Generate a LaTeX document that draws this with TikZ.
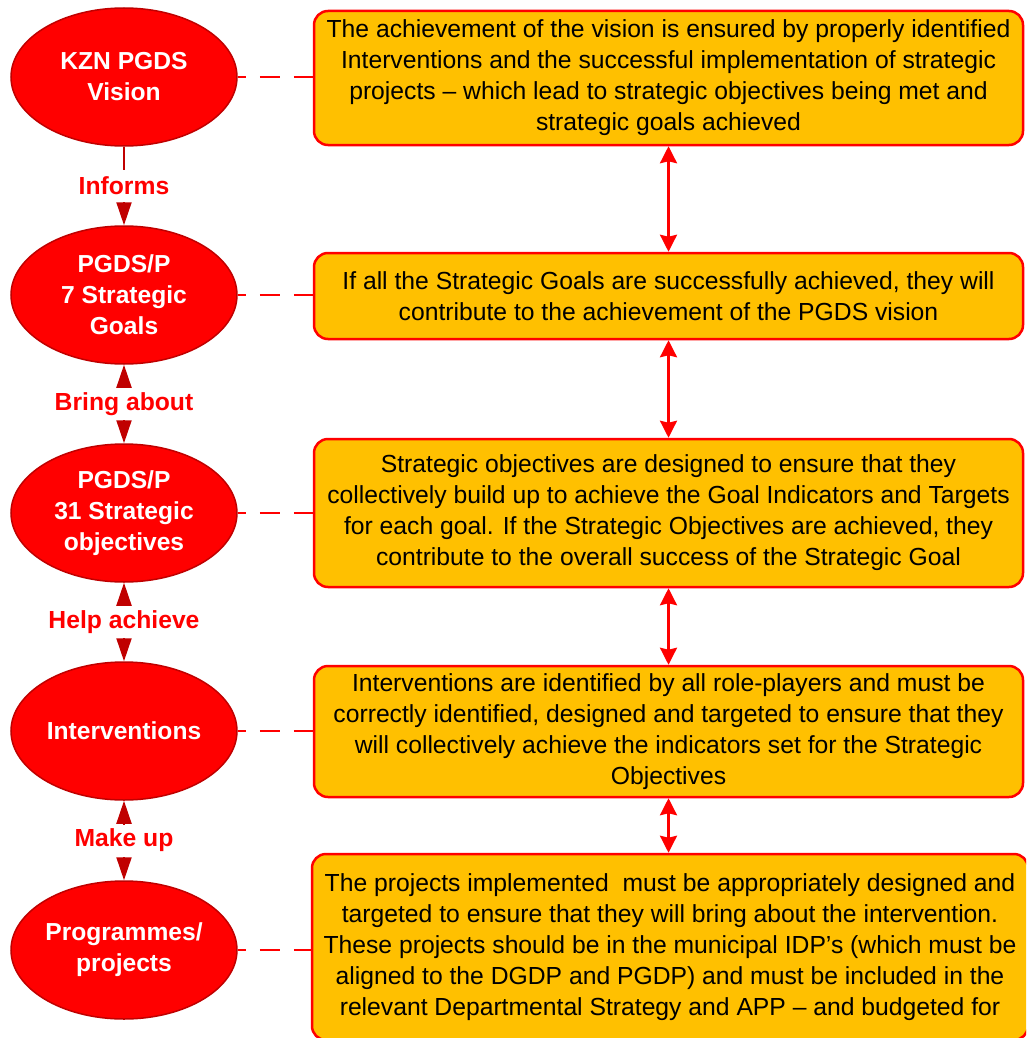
\documentclass[tikz,border=0pt]{standalone}
\usepackage{fontspec}
\setmainfont{Liberation Sans}
\usetikzlibrary{shapes.geometric,arrows.meta}
\definecolor{boxfill}{HTML}{FFC000}
\definecolor{darkred}{HTML}{C00000}
\begin{document}
\begin{tikzpicture}[x=1pt,y=-1pt,
  ell/.style={ellipse, draw=darkred, line width=1.5pt, fill=red, minimum width=226pt, minimum height=138pt, inner sep=0pt, align=center, text=white, font=\fontsize{24.6}{31}\selectfont\bfseries},
  infobox/.style={rectangle, rounded corners=14pt, draw=red, line width=2.5pt, fill=boxfill, align=center, inner sep=0pt, text=black, font=\fontsize{24.7}{31}\selectfont, minimum width=709pt},
  lbl/.style={fill=white, text=red, font=\fontsize{24.7}{31}\selectfont\bfseries, inner sep=0pt, minimum height=32pt},
  link/.style={draw=darkred, line width=2pt},
  dlink/.style={draw=red, line width=2pt, dash pattern=on 20pt off 14pt, dash phase=12pt},
  twoway/.style={draw=red, line width=2.5pt, {Stealth[length=17pt,width=17pt,inset=2pt]}-{Stealth[length=17pt,width=17pt,inset=2pt]}}
]
\clip (0,0) rectangle (1026,1038);
\fill[white] (0,0) rectangle (1026,1038);

% ellipses
\node[ell] (e1) at (124,77) {KZN PGDS\\Vision};
\node[ell] (e2) at (124,295) {PGDS/P\\7 Strategic\\Goals};
\node[ell] (e3) at (124,513) {PGDS/P\\31 Strategic\\objectives};
\node[ell] (e4) at (124,731) {Interventions};
\node[ell] (e5) at (124,950) {Programmes/\\projects};

% boxes
\node[infobox, minimum height=134pt] (b1) at (668.5,78) {The achievement of the vision is ensured by properly identified\\Interventions and the successful implementation of strategic\\projects – which lead to strategic objectives being met and\\strategic goals achieved};
\node[infobox, minimum height=86pt] (b2) at (668.5,296) {If all the Strategic Goals are successfully achieved, they will\\contribute to the achievement of the PGDS vision};
\node[infobox, minimum height=148pt] (b3) at (668.5,513) {Strategic objectives are designed to ensure that they\\collectively build up to achieve the Goal Indicators and Targets\\for each goal. If the Strategic Objectives are achieved, they\\contribute to the overall success of the Strategic Goal};
\node[infobox, minimum height=131pt] (b4) at (668.5,731.5) {Interventions are identified by all role-players and must be\\correctly identified, designed and targeted to ensure that they\\will collectively achieve the indicators set for the Strategic\\Objectives};
\node[infobox, minimum height=186pt, minimum width=716pt] (b5) at (670,947) {The projects implemented~ must be appropriately designed and\\targeted to ensure that they will bring about the intervention.\\These projects should be in the municipal IDP’s (which must be\\aligned to the DGDP and PGDP) and must be included in the\\relevant Departmental Strategy and APP – and budgeted for};

% left connectors
\draw[link,-{Triangle[width=15pt,length=23pt]}] (e1.south) -- (e2.north) node[lbl,midway] {Informs};
\draw[link,{Triangle[width=15pt,length=23pt]}-{Triangle[width=15pt,length=23pt]}] (e2.south) -- (e3.north) node[lbl,midway] {Bring about};
\draw[link,{Triangle[width=15pt,length=23pt]}-{Triangle[width=15pt,length=23pt]}] (e3.south) -- (e4.north) node[lbl,midway] {Help achieve};
\draw[link,{Triangle[width=15pt,length=23pt]}-{Triangle[width=15pt,length=23pt]}] (e4.south) -- (e5.north) node[lbl,midway] {Make up};

% dashed links
\draw[dlink] (e1.east) -- (e1.east -| b1.west);
\draw[dlink] (e2.east) -- (e2.east -| b2.west);
\draw[dlink] (e3.east) -- (e3.east -| b3.west);
\draw[dlink] (e4.east) -- (e4.east -| b4.west);
\draw[dlink] (e5.east) -- (e5.east -| b5.west);

% right double arrows
\draw[twoway] (b1.south) -- (b2.north);
\draw[twoway] (b2.south) -- (b3.north);
\draw[twoway] (b3.south) -- (b4.north);
\draw[twoway] (b4.south) -- (b4.south |- b5.north);
\end{tikzpicture}
\end{document}
